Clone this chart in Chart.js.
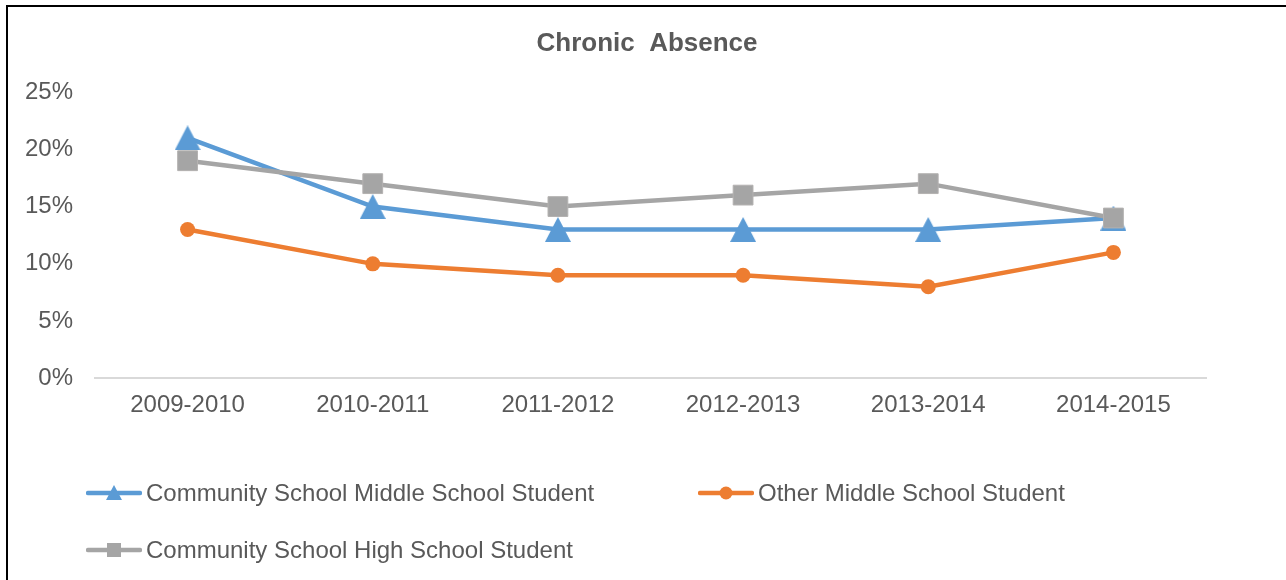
<!DOCTYPE html>
<html>
<head>
<meta charset="utf-8">
<title>Chronic Absence</title>
<script src="https://cdn.jsdelivr.net/npm/chart.js@4.4.0/dist/chart.umd.min.js"></script>
<style>
    html, body { margin: 0; padding: 0; background: #fff; overflow: hidden; }
    body { width: 1286px; height: 580px; position: relative; font-family: "Liberation Sans", Arial, sans-serif; }
    #frame { position: absolute; left: 6px; top: 5px; width: 1400px; height: 700px; border: 2px solid #000; box-sizing: border-box; }
    #chart { position: absolute; left: 0; top: 0; }
    .legend-item { position: absolute; display: flex; align-items: center; height: 28px; color: #595959; font-size: 24px; line-height: 28px; white-space: nowrap; }
    .legend-item canvas { margin-right: 4px; }
</style>
</head>
<body>
<div id="frame"></div>
<canvas id="chart" width="1286" height="580"></canvas>
<div id="legend"></div>

<script>
// Chart data
const years = ['2009-2010', '2010-2011', '2011-2012', '2012-2013', '2013-2014', '2014-2015'];
const middleCommunity = [21, 15, 13, 13, 13, 14];
const middleOther = [13, 10, 9, 9, 8, 11];
const highCommunity = [19, 17, 15, 16, 17, 14];
const yTickValues = [0, 5, 10, 15, 20, 25];

const FONT = '"Liberation Sans", Arial, sans-serif';
const TEXT = '#595959';
const BLUE = '#5B9BD5';
const ORANGE = '#ED7D31';
const GRAY = '#A5A5A5';

// Excel style triangle marker (base as wide as it is tall)
function makeTriangle(w, h, color) {
    const c = document.createElement('canvas');
    c.width = w;
    c.height = h;
    const ctx = c.getContext('2d');
    ctx.fillStyle = color;
    ctx.beginPath();
    ctx.moveTo(w / 2, 0);
    ctx.lineTo(w, h);
    ctx.lineTo(0, h);
    ctx.closePath();
    ctx.fill();
    return c;
}

function initChart() {
    const ctx = document.getElementById('chart').getContext('2d');

    const data = {
        labels: years,
        datasets: [
            {
                label: 'Community School Middle School Student',
                data: middleCommunity,
                borderColor: BLUE,
                backgroundColor: BLUE,
                borderWidth: 4.5,
                pointStyle: makeTriangle(26, 25, BLUE),
                pointRadius: 12,
                tension: 0,
                order: 2
            },
            {
                label: 'Other Middle School Student',
                data: middleOther,
                borderColor: ORANGE,
                backgroundColor: ORANGE,
                borderWidth: 4.5,
                pointStyle: 'circle',
                pointRadius: 7.5,
                pointBorderWidth: 0,
                tension: 0,
                order: 3
            },
            {
                label: 'Community School High School Student',
                data: highCommunity,
                borderColor: GRAY,
                backgroundColor: GRAY,
                borderWidth: 4.5,
                pointStyle: 'rect',
                pointRadius: 14,
                pointBorderWidth: 1,
                pointBorderColor: '#B4B2B1',
                tension: 0,
                order: 1
            }
        ]
    };

    const config = {
        type: 'line',
        data: data,
        options: {
            responsive: false,
            animation: false,
            layout: {
                padding: { left: 8, right: 0, top: 0, bottom: 146.8 }
            },
            plugins: {
                legend: { display: false },
                tooltip: { enabled: false },
                title: {
                    display: true,
                    text: 'Chronic  Absence',
                    color: TEXT,
                    font: { family: FONT, size: 26, weight: 'bold' },
                    padding: { top: 28.4, bottom: 32.4 }
                }
            },
            scales: {
                x: {
                    offset: true,
                    grid: { display: false, drawTicks: false },
                    border: { display: true, color: '#D9D9D9', width: 2 },
                    ticks: {
                        color: TEXT,
                        font: { family: FONT, size: 24 },
                        padding: 13,
                        maxRotation: 0,
                        autoSkip: false
                    }
                },
                y: {
                    min: 0,
                    max: 25,
                    grid: { display: false, drawTicks: false },
                    border: { display: false },
                    ticks: {
                        color: TEXT,
                        font: { family: FONT, size: 24 },
                        padding: 22,
                        callback: function(value) {
                            return value + '%';
                        }
                    },
                    afterBuildTicks: function(scale) {
                        scale.ticks = yTickValues.map(v => ({ value: v }));
                    },
                    afterFit: function(scale) {
                        scale.width = 87;
                    }
                },
                // empty right-hand axis: keeps the plot narrower while the title stays centred on the whole frame
                spacer: {
                    type: 'linear',
                    position: 'right',
                    display: true,
                    grid: { display: false, drawTicks: false },
                    border: { display: false },
                    ticks: { display: false },
                    afterFit: function(scale) {
                        scale.width = 80;
                    }
                }
            }
        }
    };

    new Chart(ctx, config);
}

// Legend laid out like the Excel one: two columns, wrapping
function drawLegendIcon(color, marker) {
    const c = document.createElement('canvas');
    c.width = 56;
    c.height = 22;
    const g = c.getContext('2d');
    g.strokeStyle = color;
    g.lineWidth = 4.5;
    g.lineCap = 'round';
    g.beginPath();
    g.moveTo(2, 11);
    g.lineTo(54, 11);
    g.stroke();
    g.fillStyle = color;
    g.beginPath();
    if (marker === 'triangle') {
        g.moveTo(28, 3);
        g.lineTo(36, 18);
        g.lineTo(20, 18);
        g.closePath();
    } else if (marker === 'circle') {
        g.arc(28, 11, 6.5, 0, Math.PI * 2);
    } else {
        g.rect(21, 4, 14, 14);
    }
    g.fill();
    return c;
}

function buildLegend() {
    const items = [
        { text: 'Community School Middle School Student', color: BLUE, marker: 'triangle', left: 86, top: 479 },
        { text: 'Other Middle School Student', color: ORANGE, marker: 'circle', left: 698, top: 479 },
        { text: 'Community School High School Student', color: GRAY, marker: 'rect', left: 86, top: 536 }
    ];
    const legend = document.getElementById('legend');
    items.forEach(item => {
        const el = document.createElement('div');
        el.className = 'legend-item';
        el.style.left = item.left + 'px';
        el.style.top = item.top + 'px';
        el.appendChild(drawLegendIcon(item.color, item.marker));
        const span = document.createElement('span');
        span.textContent = item.text;
        el.appendChild(span);
        legend.appendChild(el);
    });
}

initChart();
buildLegend();
</script>
</body>
</html>
